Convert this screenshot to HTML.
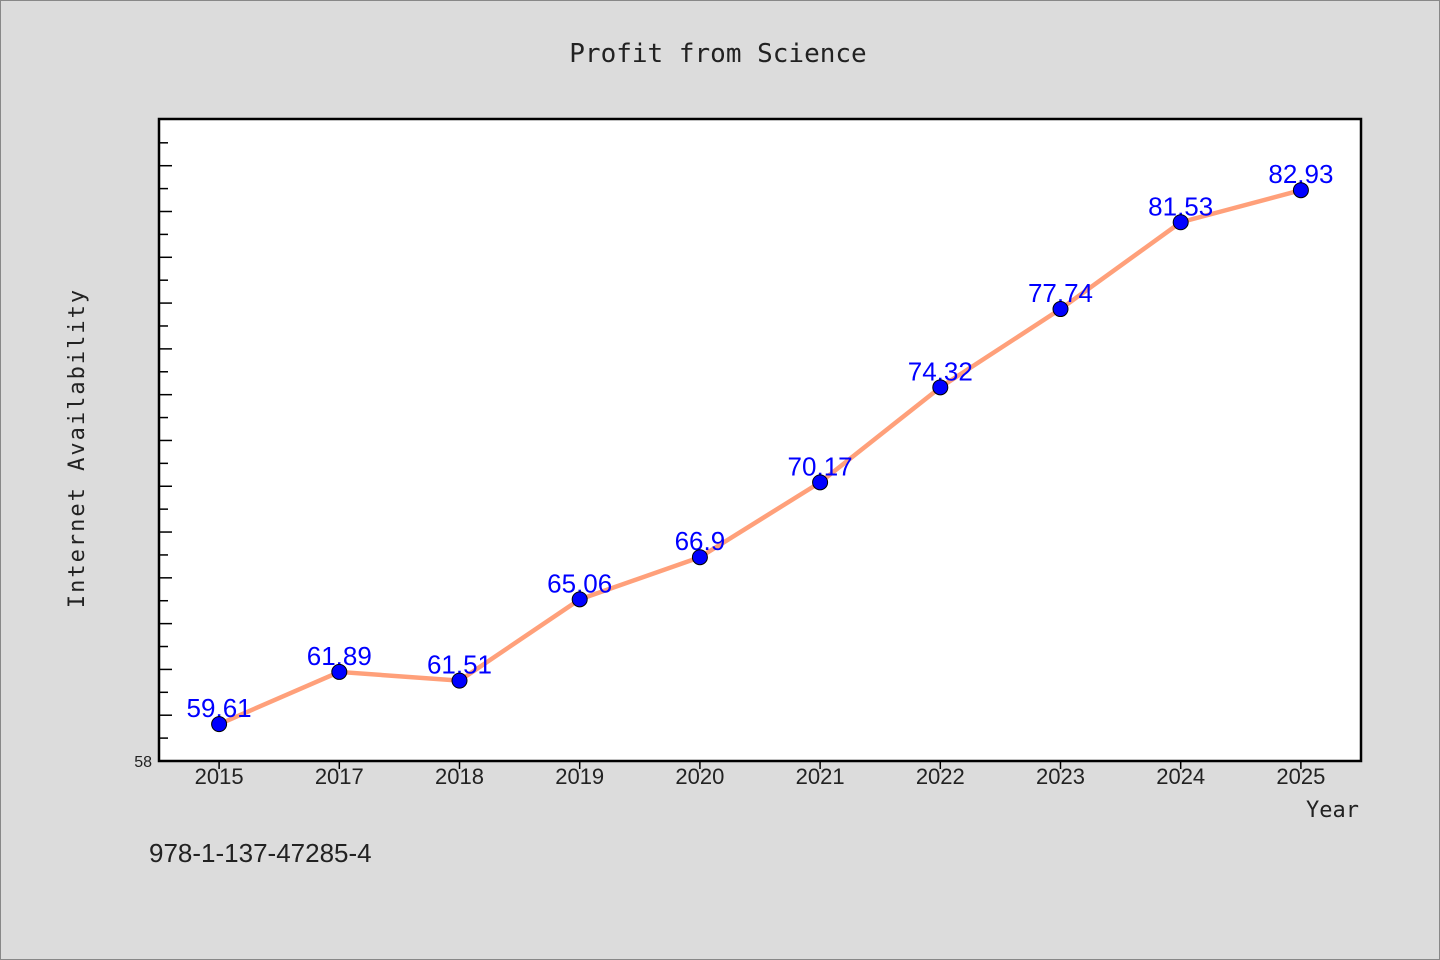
<!DOCTYPE html>
<html><head><meta charset="utf-8"><style>
html,body{margin:0;padding:0;background:#dcdcdc;}
svg{display:block;}
</style></head><body>
<svg id="chart" width="1440" height="960" xmlns="http://www.w3.org/2000/svg" font-family="'WenQuanYi Zen Hei', 'Liberation Sans', sans-serif">
<rect x="0.5" y="0.5" width="1439" height="959" fill="#dcdcdc" stroke="#888"/>
<text x="718" y="62" text-anchor="middle" font-size="26" font-family="'WenQuanYi Zen Hei Mono','DejaVu Sans Mono',monospace" fill="#222">Profit from Science</text>
<rect x="159" y="119" width="1202" height="642" fill="#fff" stroke="#000" stroke-width="2.5"/>
<g id="yticks"></g><g id="xticks"></g><g id="series"></g>
<text transform="translate(84,448) rotate(-90)" text-anchor="middle" font-size="22" font-family="'WenQuanYi Zen Hei Mono','DejaVu Sans Mono',monospace" fill="#222" letter-spacing="2">Internet Availability</text>
<text x="1359" y="817" text-anchor="end" font-size="22" font-family="'WenQuanYi Zen Hei Mono','DejaVu Sans Mono',monospace" fill="#222">Year</text>
<text x="149" y="862" font-size="26" fill="#222">978-1-137-47285-4</text>
</svg>
<script>
const categories=["2015","2017","2018","2019","2020","2021","2022","2023","2024","2025"];
const values=[59.61,61.89,61.51,65.06,66.9,70.17,74.32,77.74,81.53,82.93];
const valueLabels=["59.61","61.89","61.51","65.06","66.9","70.17","74.32","77.74","81.53","82.93"];
const yMin=58,yMax=86.04;
const L=159,R=1361,T=119,B=761;
const NS="http://www.w3.org/2000/svg";
const band=(R-L)/categories.length;
const x=i=>L+band*(i+0.5);
const y=v=>B-(v-yMin)/(yMax-yMin)*(B-T);
function mk(tag,attrs,parent){const e=document.createElementNS(NS,tag);for(const k in attrs)e.setAttribute(k,attrs[k]);parent.appendChild(e);return e;}
const yt=document.getElementById('yticks');
for(let v=yMin;v<=85;v++){
  const long=(v%2===0);
  const t=mk('line',{x1:L,x2:L+(long?13:9),y1:y(v),y2:y(v),stroke:'#000','stroke-width':1.5},yt);
  
  
}
const yl=mk('text',{x:152,y:y(yMin)+6,'text-anchor':'end','font-size':16,fill:'#222'},yt);


yl.textContent=String(yMin);
const xt=document.getElementById('xticks');
categories.forEach((c,i)=>{
  const t=mk('line',{x1:x(i),x2:x(i),y1:B,y2:B+8,stroke:'#000','stroke-width':1.5},xt);
  
  
  const l=mk('text',{x:x(i),y:B+23,'text-anchor':'middle','font-size':22,fill:'#222'},xt);
  
  
  l.textContent=c;
});
const s=document.getElementById('series');
const line=mk('polyline',{points:values.map((v,i)=>x(i)+','+y(v)).join(' '),fill:'none',stroke:'#ffa07a','stroke-width':4.5,'stroke-linejoin':'round'},s);


values.forEach((v,i)=>{
  const lb=mk('text',{x:x(i),y:y(v)-7,'text-anchor':'middle','font-size':26,fill:'#0000ff'},s);
  
  
  lb.textContent=valueLabels[i];
  const p=mk('circle',{cx:x(i),cy:y(v),r:7.5,fill:'#0000ff',stroke:'#000','stroke-width':1},s);
  
  
});
</script>
</body></html>
